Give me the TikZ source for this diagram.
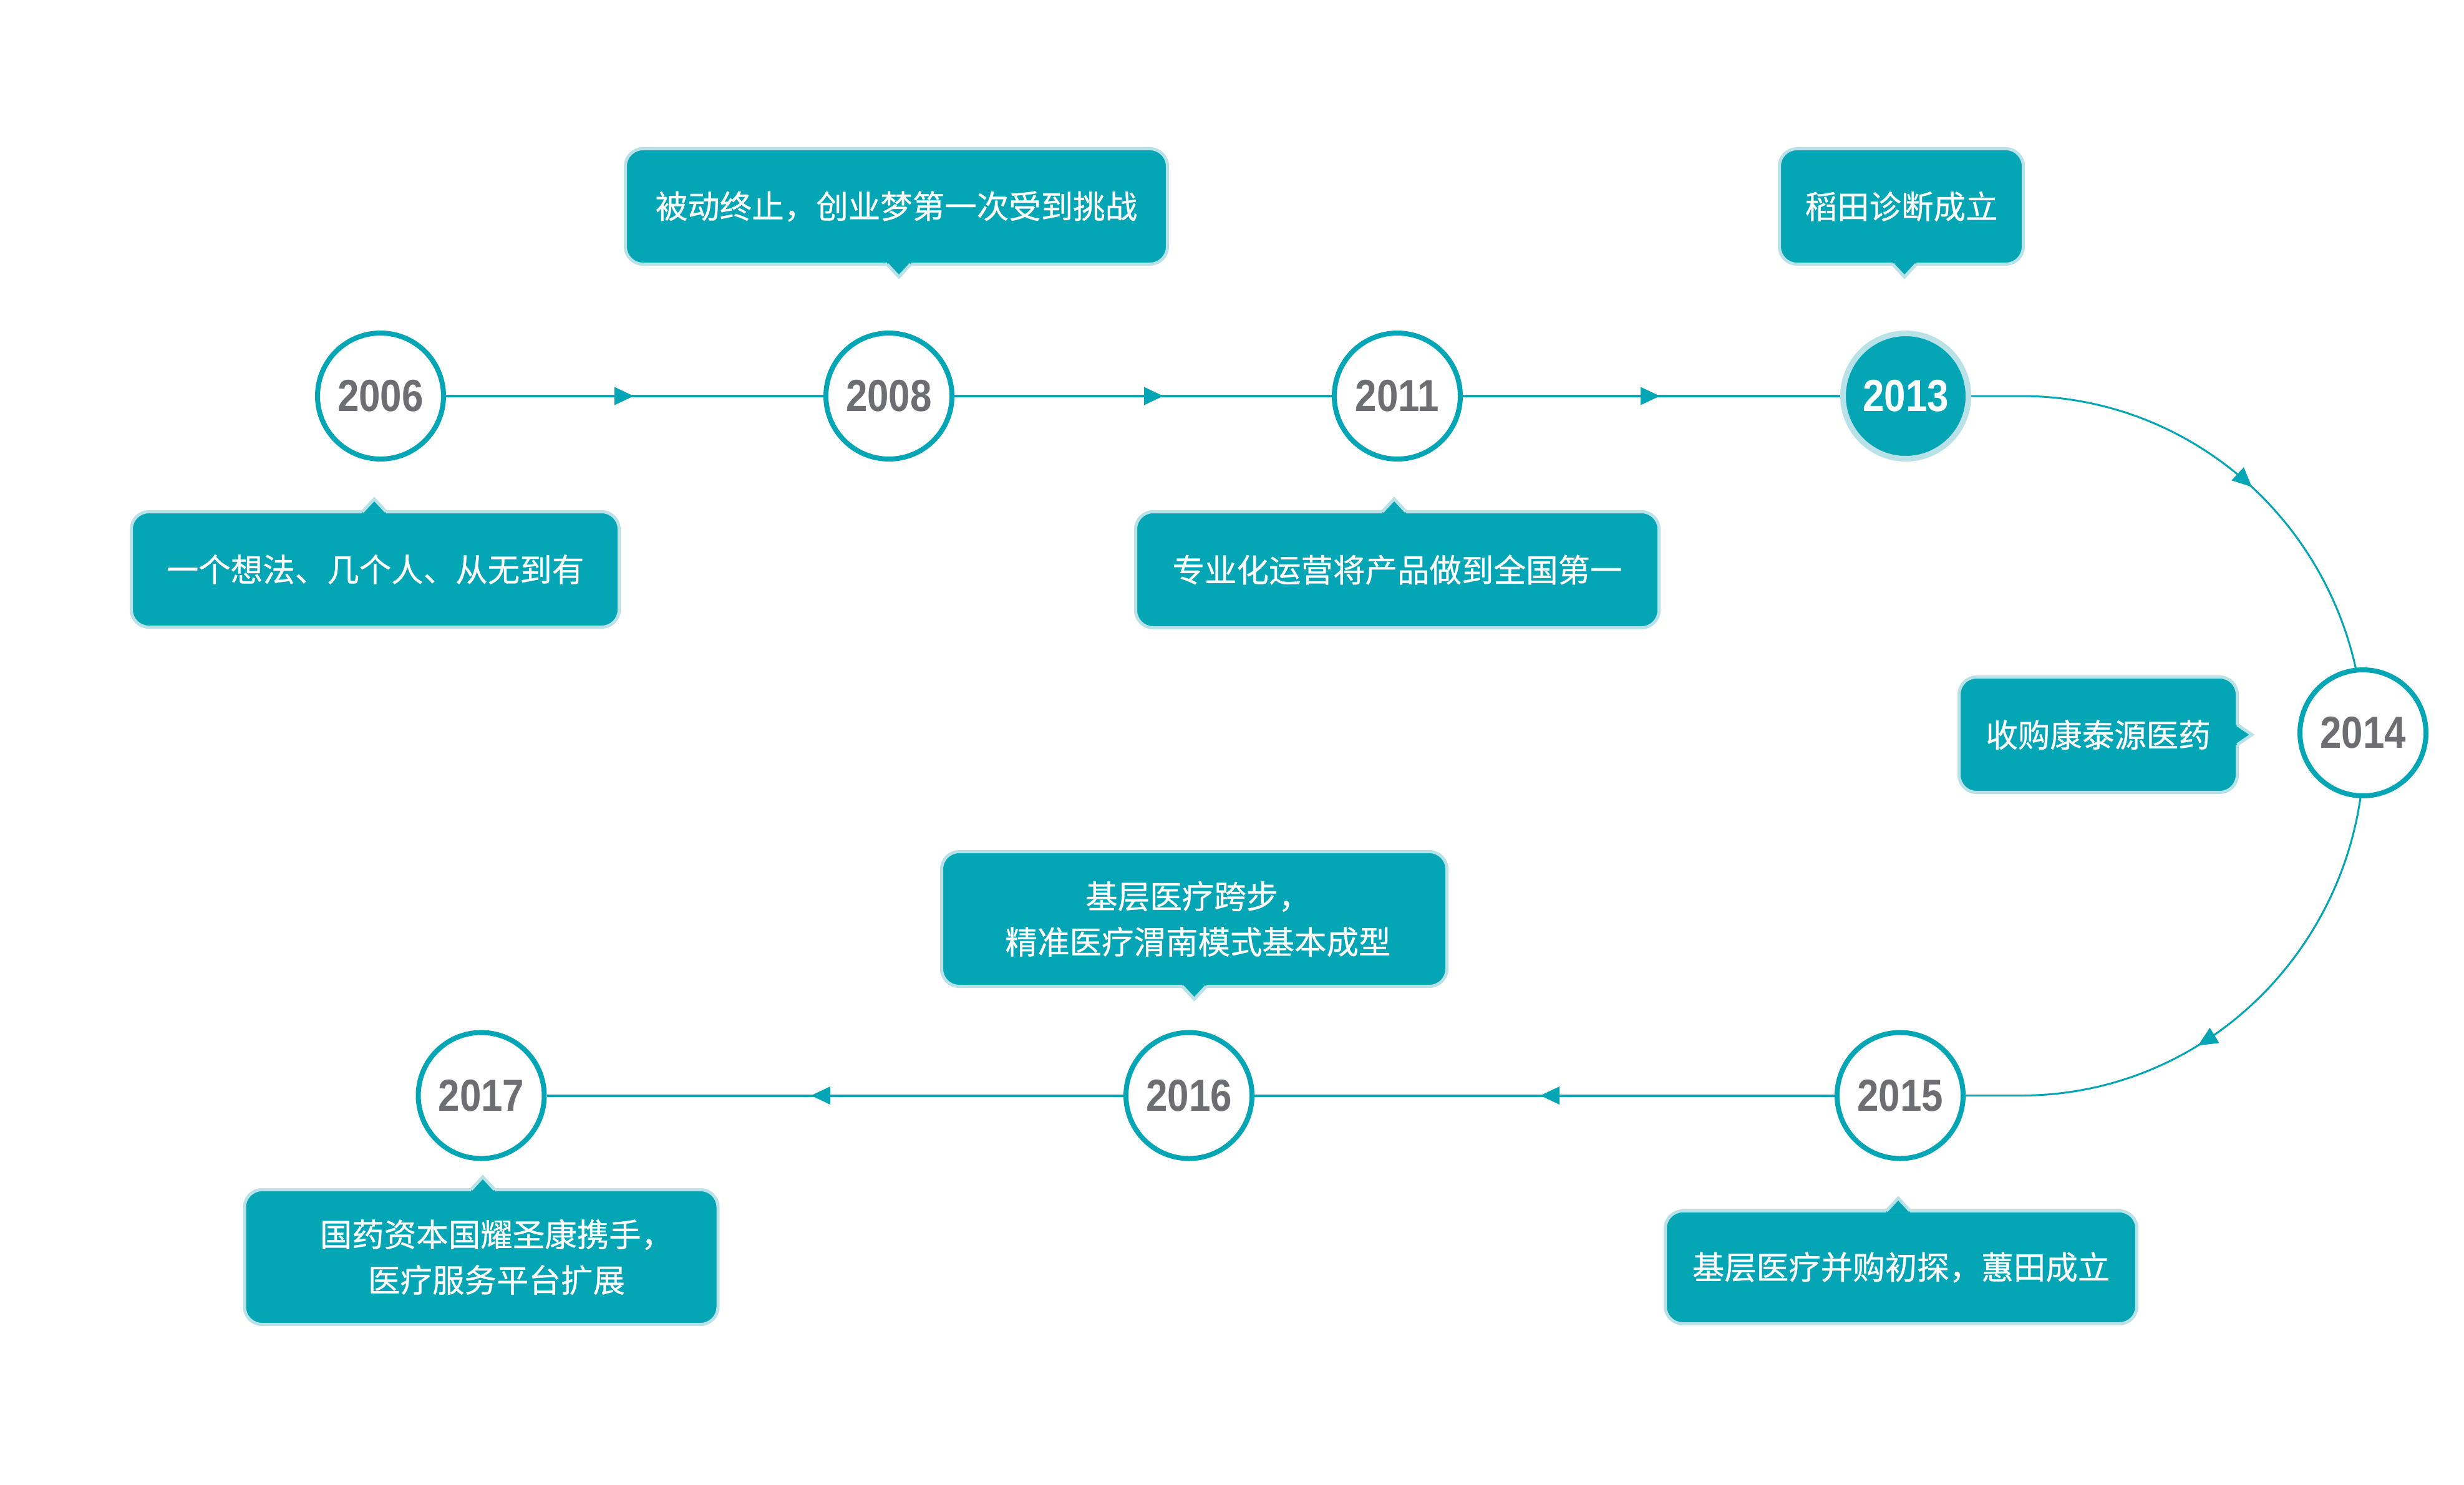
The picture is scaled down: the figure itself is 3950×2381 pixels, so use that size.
\documentclass[tikz,border=0pt]{standalone}
\usepackage{fontspec}
\newfontfamily\cjkfont[FakeBold=0.6]{Noto Sans CJK SC}
\newfontfamily\yearfont[FakeStretch=0.86]{Liberation Sans}
\usetikzlibrary{arrows.meta,decorations.markings,calc}
\definecolor{tealmain}{HTML}{04A5B4}
\definecolor{rimcol}{HTML}{B9E2E8}
\definecolor{yeargray}{HTML}{6D6E71}
\pgfdeclarelayer{bglayer}
\pgfsetlayers{bglayer,main}
% pointer helpers: #1 node name, #2 offset from the side's midpoint
\newcommand\ptrNorth[2]{%
  \fill[tealmain] ($(#1.north)+(#2-19,-5.5)$) -- ($(#1.north)+(#2-19,-2.5)$) -- ($(#1.north)+(#2,18)$) -- ($(#1.north)+(#2+19,-2.5)$) -- ($(#1.north)+(#2+19,-5.5)$) -- cycle;
  \draw[rimcol,line width=5pt,line join=miter] ($(#1.north)+(#2-19,-2.5)$) -- ($(#1.north)+(#2,18)$) -- ($(#1.north)+(#2+19,-2.5)$);}
\newcommand\ptrSouth[2]{%
  \fill[tealmain] ($(#1.south)+(#2-19,5.5)$) -- ($(#1.south)+(#2-19,2.5)$) -- ($(#1.south)+(#2,-18)$) -- ($(#1.south)+(#2+19,2.5)$) -- ($(#1.south)+(#2+19,5.5)$) -- cycle;
  \draw[rimcol,line width=5pt,line join=miter] ($(#1.south)+(#2-19,2.5)$) -- ($(#1.south)+(#2,-18)$) -- ($(#1.south)+(#2+19,2.5)$);}
\newcommand\ptrEast[2]{%
  \fill[tealmain] ($(#1.east)+(-5.5,#2+16)$) -- ($(#1.east)+(-2.5,#2+16)$) -- ($(#1.east)+(21,#2)$) -- ($(#1.east)+(-2.5,#2-16)$) -- ($(#1.east)+(-5.5,#2-16)$) -- cycle;
  \draw[rimcol,line width=5pt,line join=miter] ($(#1.east)+(-2.5,#2+16)$) -- ($(#1.east)+(21,#2)$) -- ($(#1.east)+(-2.5,#2-16)$);}
\begin{document}
\begin{tikzpicture}[x=1pt,y=1pt,
  yearnode/.style={circle,draw=tealmain,line width=8pt,fill=white,minimum size=202pt,inner sep=0pt,
    font=\yearfont\bfseries\fontsize{72pt}{72pt}\selectfont,text=yeargray},
  msgbox/.style={rectangle,rounded corners=28pt,fill=tealmain,draw=rimcol,line width=5pt,inner sep=0pt,
    text=white,font=\cjkfont\fontsize{51.5pt}{73pt}\selectfont,align=center},
  conn/.style={draw=tealmain,color=tealmain,line width=4pt},
  arrowat/.style={postaction={decorate,decoration={markings,mark=at position #1 with {\arrow{Triangle[length=31pt,width=28pt]}}}}}
]
\useasboundingbox (0,0) rectangle (3950,-2381);

% year circles
\node[yearnode] (c2006) at (610,-635) {2006};
\node[yearnode] (c2008) at (1425,-635) {2008};
\node[yearnode] (c2011) at (2240,-635) {2011};
\node[yearnode,fill=tealmain,draw=rimcol,line width=9pt,minimum size=201pt,text=white] (c2013) at (3055,-635) {2013};
\node[yearnode] (c2014) at (3788,-1175) {2014};
\node[yearnode] (c2015) at (3046,-1756.5) {2015};
\node[yearnode] (c2016) at (1906,-1756.5) {2016};
\node[yearnode] (c2017) at (771.5,-1756.5) {2017};

% message boxes
\node[msgbox,minimum width=782pt,minimum height=185pt] (b2006) at (601.5,-913) {一个想法、几个人、从无到有};
\node[msgbox,minimum width=869pt,minimum height=185pt] (b2008) at (1437,-331) {被动终止，创业梦第一次受到挑战};
\node[msgbox,minimum width=839pt,minimum height=186pt] (b2011) at (2240,-913.5) {专业化运营将产品做到全国第一};
\node[msgbox,minimum width=391pt,minimum height=185pt] (b2013) at (3048,-331) {稻田诊断成立};
\node[msgbox,minimum width=446pt,minimum height=185pt] (b2014) at (3363.5,-1178) {收购康泰源医药};
\node[msgbox,minimum width=810pt,minimum height=216pt] (b2016) at (1914.5,-1473.5) {\hspace*{12pt}基层医疗跨步，\\\hspace*{12pt}精准医疗渭南模式基本成型};
\node[msgbox,minimum width=756pt,minimum height=181pt] (b2015) at (3047.5,-2032) {基层医疗并购初探，蕙田成立};
\node[msgbox,minimum width=759pt,minimum height=216pt] (b2017) at (771.5,-2015.5) {\hspace*{49pt}国药资本国耀圣康携手，\\\hspace*{49pt}医疗服务平台扩展};

% pointers
\ptrNorth{b2006}{-1.5}
\ptrSouth{b2008}{4}
\ptrNorth{b2011}{-5}
\ptrSouth{b2013}{5}
\ptrEast{b2014}{0}
\ptrSouth{b2016}{0}
\ptrNorth{b2015}{-4.5}
\ptrNorth{b2017}{2.5}

% connectors
\coordinate (arcTop) at (3240,-635);
\coordinate (arcRight) at (3790,-1195.75);
\begin{pgfonlayer}{bglayer}
  \fill[white] (0,0) rectangle (3950,-2381);
  \draw[conn,arrowat=301pt] (c2006.east) -- (c2008.west);
  \draw[conn,arrowat=335pt] (c2008.east) -- (c2011.west);
  \draw[conn,arrowat=316pt] (c2011.east) -- (c2013.west);
  \draw[conn,line width=3pt,arrowat=487pt] (c2013.east) -- (arcTop)
     arc[start angle=90,end angle=0,x radius=550,y radius=560.75];
  \draw[conn,line width=3pt,arrowat=574pt] (arcRight)
     arc[start angle=0,end angle=-90,x radius=550,y radius=560.75] -- (c2015.east);
  \draw[conn,arrowat=472pt] (c2015.west) -- (c2016.east);
  \draw[conn,arrowat=501pt] (c2016.west) -- (c2017.east);
\end{pgfonlayer}
\end{tikzpicture}
\end{document}
